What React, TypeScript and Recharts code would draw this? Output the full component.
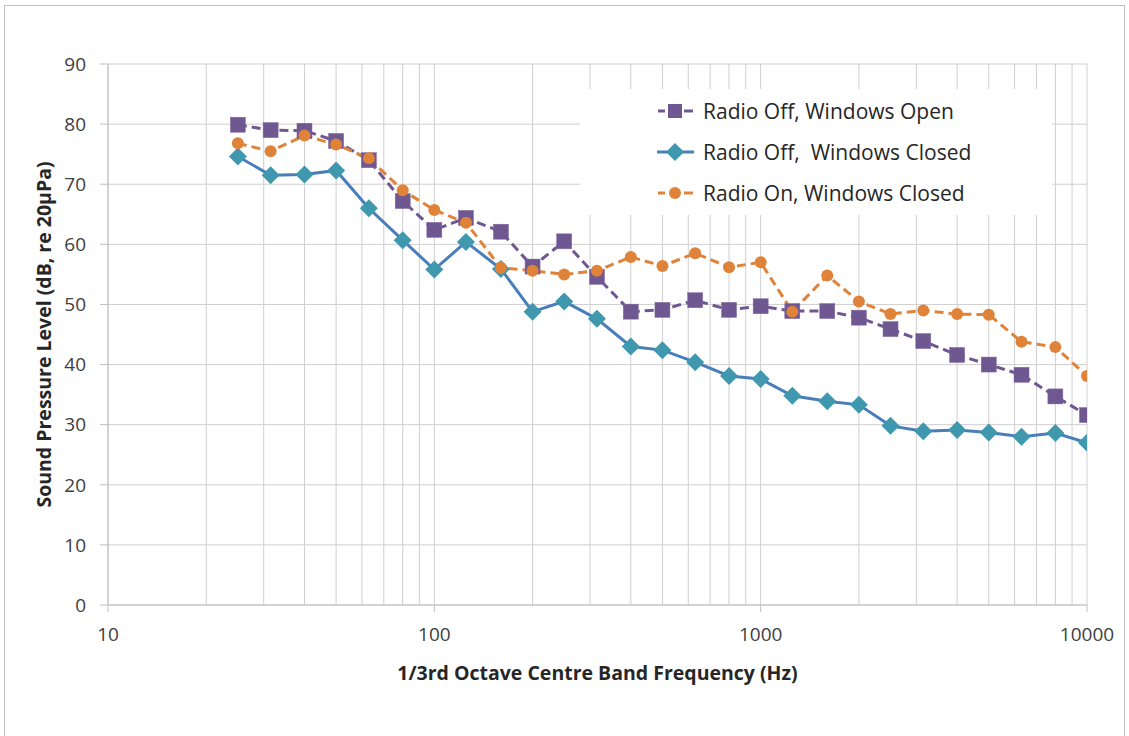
import { LineChart, Line, XAxis, YAxis, CartesianGrid } from 'recharts';

const frequencies = [
  25, 31.5, 40, 50, 63, 80, 100, 125, 160, 200, 250, 315, 400, 500, 630, 800,
  1000, 1250, 1600, 2000, 2500, 3150, 4000, 5000, 6300, 8000, 10000,
];

const offOpen = [
  79.9, 79.0, 78.9, 77.2, 74.0, 67.2, 62.4, 64.4, 62.1, 56.3, 60.5, 54.6, 48.8,
  49.1, 50.7, 49.1, 49.7, 48.9, 48.9, 47.8, 45.9, 43.9, 41.6, 40.0, 38.3, 34.7, 31.6,
];

const offClosed = [
  74.6, 71.5, 71.6, 72.3, 66.0, 60.7, 55.8, 60.4, 55.9, 48.8, 50.5, 47.6, 43.0,
  42.4, 40.4, 38.1, 37.6, 34.8, 33.9, 33.3, 29.8, 28.9, 29.1, 28.7, 28.0, 28.6, 27.0,
];

const onClosed = [
  76.8, 75.5, 78.1, 76.6, 74.3, 69.0, 65.7, 63.6, 56.1, 55.6, 55.0, 55.6, 57.9,
  56.4, 58.5, 56.2, 57.0, 48.8, 54.8, 50.5, 48.4, 49.0, 48.4, 48.3, 43.8, 42.9, 38.1,
];

const xTicks = [
  10, 20, 30, 40, 50, 60, 70, 80, 90, 100, 200, 300, 400, 500, 600, 700, 800, 900,
  1000, 2000, 3000, 4000, 5000, 6000, 7000, 8000, 9000, 10000,
];
const xLabels = [10, 100, 1000, 10000];
const yTicks = [0, 10, 20, 30, 40, 50, 60, 70, 80, 90];

const PURPLE = '#6f5792';
const BLUE = '#4a7ebb';
const TEAL = '#3f98ae';
const ORANGE = '#e0833a';
const FONT = '"Open Sans", sans-serif';

const data = frequencies.map((f, i) => ({
  f,
  offOpen: offOpen[i],
  offClosed: offClosed[i],
  onClosed: onClosed[i],
}));

const TICK_SIZE = 7;
const TICK_MARGIN = 16;

// only the decades get a label and a tick mark, the rest are just grid lines
function XTick(props: any) {
  const { x, y, payload } = props;
  if (!xLabels.includes(payload.value)) return <g />;
  const axisY = y - TICK_SIZE - TICK_MARGIN;
  return (
    <g>
      <line x1={x} x2={x} y1={axisY} y2={axisY + TICK_SIZE} stroke="#bfbfbf" />
      <text x={x} y={y} dy="0.71em" textAnchor="middle" fill="#404040" fontSize={19} fontFamily={FONT}>
        {payload.value}
      </text>
    </g>
  );
}

function SquareDot(props: any) {
  const { cx, cy, index } = props;
  return <rect key={`sq-${index}`} x={cx - 7.5} y={cy - 7.5} width={15} height={15} fill={PURPLE} stroke="#7e6aa0" strokeWidth={0.5} />;
}

function DiamondDot(props: any) {
  const { cx, cy, index } = props;
  return (
    <path key={`dm-${index}`} d={`M${cx},${cy - 9} L${cx + 9},${cy} L${cx},${cy + 9} L${cx - 9},${cy} Z`} fill={TEAL} />
  );
}

function CircleDot(props: any) {
  const { cx, cy, index } = props;
  return <circle key={`ci-${index}`} cx={cx} cy={cy} r={6} fill={ORANGE} />;
}

const legendItems = [
  { label: 'Radio Off, Windows Open', color: PURPLE, dash: true, marker: 'square' },
  { label: 'Radio Off,  Windows Closed', color: BLUE, dash: false, marker: 'diamond' },
  { label: 'Radio On, Windows Closed', color: ORANGE, dash: true, marker: 'circle' },
];

function LegendBox() {
  return (
    <div style={{ position: 'absolute', left: 580, top: 89, background: '#fff', width: 472, height: 126 }}>
      {legendItems.map((it, i) => (
        <div
          key={it.label}
          style={{ position: 'absolute', left: 76, top: 7 + i * 41, height: 30, display: 'flex', alignItems: 'center' }}
        >
          <svg width={40} height={20} style={{ marginRight: 7 }}>
            {it.dash ? (
              <>
                <line x1={2} x2={9} y1={10} y2={10} stroke={it.color} strokeWidth={3} />
                <line x1={28} x2={37} y1={10} y2={10} stroke={it.color} strokeWidth={3} />
              </>
            ) : (
              <line x1={1} x2={38} y1={10} y2={10} stroke={it.color} strokeWidth={3} />
            )}
            {it.marker === 'square' && <rect x={12} y={3} width={14} height={14} fill={PURPLE} />}
            {it.marker === 'diamond' && <path d="M19,1 L28,10 L19,19 L10,10 Z" fill={TEAL} />}
            {it.marker === 'circle' && <circle cx={19} cy={10} r={6} fill={ORANGE} />}
          </svg>
          <span style={{ fontFamily: FONT, fontSize: 21, color: '#262626', whiteSpace: 'pre' }}>{it.label}</span>
        </div>
      ))}
    </div>
  );
}

export default function App() {
  return (
    <div style={{ position: 'absolute', left: 0, top: 0, width: 1129, height: 736, background: '#fff', overflow: 'hidden' }}>
      <div
        style={{ position: 'absolute', left: 4, top: 5, width: 1121, height: 740, border: '1px solid #bfbfbf', boxSizing: 'border-box' }}
      />
      <div style={{ position: 'absolute', left: 0, top: 0 }}>
        <LineChart width={1129} height={736} data={data} margin={{ top: 64, right: 42, left: 0, bottom: 51 }}>
          <CartesianGrid stroke="#cfcfcf" strokeWidth={1} />
          <XAxis
            dataKey="f"
            type="number"
            scale="log"
            domain={[10, 10000]}
            ticks={xTicks}
            interval={0}
            allowDataOverflow
            height={80}
            stroke="#bfbfbf"
            tickLine={false}
            tickSize={TICK_SIZE}
            tickMargin={TICK_MARGIN}
            tick={<XTick />}
            label={{
              value: '1/3rd Octave Centre Band Frequency (Hz)',
              position: 'insideBottom',
              offset: 5,
              style: { fontFamily: FONT, fontWeight: 700, fontSize: 19.5, fill: '#262626' },
            }}
          />
          <YAxis
            type="number"
            domain={[0, 90]}
            ticks={yTicks}
            interval={0}
            width={108}
            stroke="#bfbfbf"
            tickSize={8}
            tickMargin={14}
            tick={{ fill: '#404040', fontSize: 19, fontFamily: FONT }}
            label={{
              value: 'Sound Pressure Level (dB, re 20μPa)',
              angle: -90,
              position: 'center',
              dx: -10,
              style: { fontFamily: FONT, fontWeight: 700, fontSize: 19.5, fill: '#262626', textAnchor: 'middle' },
            }}
          />
          <Line
            dataKey="offOpen"
            stroke={PURPLE}
            strokeWidth={3}
            strokeDasharray="9 5"
            dot={SquareDot}
            isAnimationActive={false}
          />
          <Line
            dataKey="offClosed"
            stroke={BLUE}
            strokeWidth={3}
            dot={DiamondDot}
            isAnimationActive={false}
          />
          <Line
            dataKey="onClosed"
            stroke={ORANGE}
            strokeWidth={3}
            strokeDasharray="9 5"
            dot={CircleDot}
            isAnimationActive={false}
          />
        </LineChart>
      </div>
      <LegendBox />
    </div>
  );
}
